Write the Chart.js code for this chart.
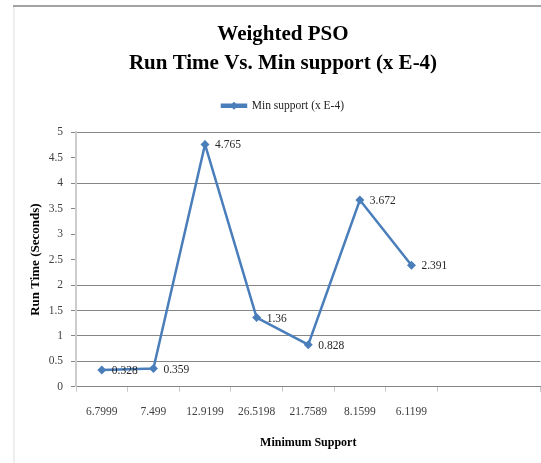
<!DOCTYPE html>
<html>
<head>
<meta charset="utf-8">
<script src="https://cdn.jsdelivr.net/npm/chart.js@4"></script>
<style>
  html, body { margin: 0; padding: 0; background: #fff; overflow: hidden; }
  #wrap { width: 541px; height: 463px; position: relative; overflow: hidden; }
</style>
</head>
<body>
<div id="wrap"><canvas id="myChart" width="545" height="463"></canvas></div>
<script>
// chart data
const categories = ['6.7999', '7.499', '12.9199', '26.5198', '21.7589', '8.1599', '6.1199', '', ''];
const runTimes = [0.328, 0.359, 4.765, 1.36, 0.828, 3.672, 2.391, null, null];
const valueLabels = ['0.328', '0.359', '4.765', '1.36', '0.828', '3.672', '2.391'];
const yTicks = [0, 0.5, 1, 1.5, 2, 2.5, 3, 3.5, 4, 4.5, 5];
const hiddenGrid = [2.5, 3, 3.5, 4.5]; // these rows are lost in the reference image

const serif = '"Liberation Serif", "Times New Roman", serif';
const blue = '#4a7ebb';

// frame lines of the original Excel chart
const framePlugin = {
    id: 'frame',
    afterInit(chart) {
        // leave a gap under the legend, like the original
        const lg = chart.legend;
        const fit = lg.fit;
        lg.fit = function () { fit.call(this); this.height += 11; };
    },
    beforeDraw(chart) {
        const c = chart.ctx;
        c.save();
        c.fillStyle = '#fff';
        c.fillRect(0, 0, chart.width, chart.height);
        c.strokeStyle = '#eeeeee';
        c.lineWidth = 2;
        c.beginPath(); c.moveTo(14, 6); c.lineTo(14, chart.height); c.stroke();
        c.strokeStyle = '#858585';
        c.lineWidth = 1.5;
        c.beginPath(); c.moveTo(13, 6); c.lineTo(chart.width, 6); c.stroke();
        c.restore();
    }
};

// value labels next to each point + diamond on the legend line
const labelPlugin = {
    id: 'valueLabels',
    afterDatasetsDraw(chart) {
        const c = chart.ctx;
        const meta = chart.getDatasetMeta(0);
        c.save();
        c.font = '11.5px ' + serif;
        c.fillStyle = '#262626';
        c.textBaseline = 'middle';
        c.textAlign = 'left';
        meta.data.forEach((pt, i) => {
            if (runTimes[i] == null) return;
            c.fillText(valueLabels[i], pt.x + 10, pt.y + 1);
        });
        c.restore();
    },
    afterDraw(chart) {
        const box = chart.legend.legendHitBoxes[0];
        if (!box) return;
        const c = chart.ctx;
        const cx = box.left + 12, cy = box.top + box.height / 2;
        c.save();
        c.fillStyle = blue;
        c.beginPath();
        c.moveTo(cx, cy - 4); c.lineTo(cx + 4, cy); c.lineTo(cx, cy + 4); c.lineTo(cx - 4, cy);
        c.closePath(); c.fill();
        c.restore();
    }
};

const ctx = document.getElementById('myChart').getContext('2d');
const myChart = new Chart(ctx, {
    type: 'line',
    data: {
        labels: categories,
        datasets: [{
            label: 'Min support (x E-4)',
            data: runTimes,
            borderColor: blue,
            backgroundColor: blue,
            borderWidth: 2.5,
            pointStyle: 'rectRot',
            pointRadius: 4.5,
            pointBorderWidth: 0,
            pointBackgroundColor: blue,
            tension: 0
        }]
    },
    options: {
        responsive: false,
        animation: false,
        devicePixelRatio: 1,
        layout: { padding: { left: 21, right: 0, top: 6, bottom: 0 } },
        plugins: {
            title: {
                display: true,
                text: ['Weighted PSO', 'Run Time Vs. Min support (x E-4)'],
                font: { family: serif, size: 21, weight: 'bold', lineHeight: 1.38 },
                color: '#000',
                padding: { top: 14, bottom: 6 }
            },
            legend: {
                display: true,
                labels: {
                    font: { family: serif, size: 11.5 },
                    color: '#222',
                    boxWidth: 24,
                    boxHeight: 2,
                    padding: 16
                }
            },
            tooltip: { enabled: false }
        },
        scales: {
            x: {
                offset: true,
                grid: {
                    offset: true,
                    drawOnChartArea: false,
                    tickLength: 5,
                    tickColor: (c) => c.index === 8 ? 'rgba(0,0,0,0)' : '#c8c8c8'
                },
                border: { color: '#868686', width: 1 },
                ticks: {
                    font: { family: serif, size: 11.5 },
                    color: '#404040',
                    padding: 13,
                    maxRotation: 0,
                    autoSkip: false
                },
                title: {
                    display: true,
                    text: 'Minimum Support',
                    font: { family: serif, size: 12, weight: 'bold' },
                    color: '#000',
                    padding: { top: 4, bottom: 13 }
                }
            },
            y: {
                min: 0,
                max: 5,
                afterBuildTicks: (scale) => { scale.ticks = yTicks.map(v => ({ value: v })); },
                afterFit: (scale) => { scale.width = 76 - 21; },
                grid: {
                    color: (c) => hiddenGrid.includes(c.tick && c.tick.value) ? 'rgba(0,0,0,0)' : '#868686',
                    tickColor: '#868686',
                    tickLength: 5,
                    lineWidth: 1
                },
                border: { color: '#cccccc', width: 2 },
                ticks: {
                    font: { family: serif, size: 11.5 },
                    color: '#404040',
                    padding: 8,
                    callback: (v) => String(v)
                },
                title: {
                    display: true,
                    text: 'Run Time (Seconds)',
                    font: { family: serif, size: 13, weight: 'bold' },
                    color: '#000',
                    padding: { top: 7, bottom: 0 }
                }
            }
        }
    },
    plugins: [framePlugin, labelPlugin]
});
</script>
</body>
</html>
